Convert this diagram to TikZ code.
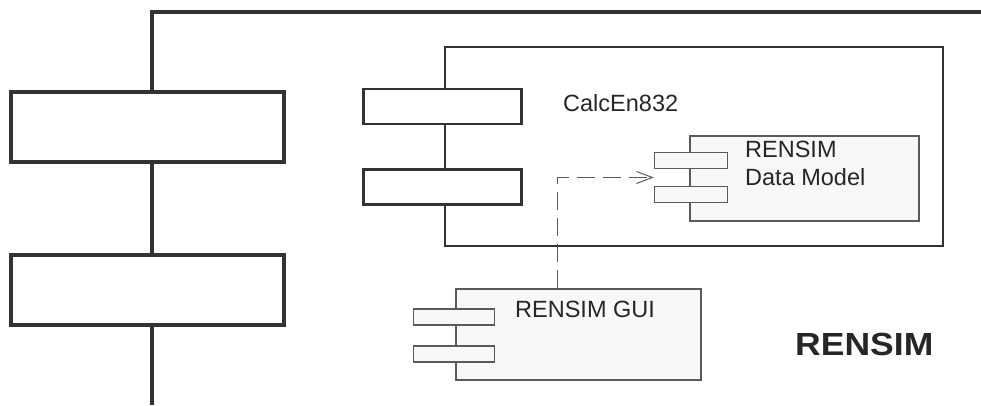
\documentclass[tikz,border=0pt]{standalone}
\usepackage{fontspec}
\setmainfont{Liberation Sans}
\usetikzlibrary{arrows.meta, positioning, calc}
\definecolor{rahmen}{HTML}{333333}
\definecolor{kante}{HTML}{5A5A5A}
\definecolor{teilfill}{HTML}{F8F8F8}
\tikzset{
  bigtab/.style   = {rectangle, draw=rahmen, line width=4pt, fill=white, minimum width=273pt, minimum height=70pt, inner sep=0pt},
  midtab/.style   = {rectangle, draw=rahmen, line width=2.5pt, fill=white, minimum width=158pt, minimum height=35pt, inner sep=0pt},
  comp/.style     = {rectangle, draw=kante, line width=1.3pt, fill=teilfill, inner sep=0pt},
  smalltab/.style = {comp, minimum height=16pt},
  txt/.style      = {font=\fontsize{23.5}{28}\selectfont, text=black!85, inner sep=0pt, anchor=base west},
  dep/.style      = {draw=kante, line width=1pt, dash pattern=on 18pt off 8pt, -{Straight Barb[length=16pt,width=12pt]}}
}

\begin{document}
\begin{tikzpicture}[x=1pt, y=-1pt]
  \useasboundingbox (0,0) rectangle (981,405);

  % RENSIM (outer component)
  \draw[rahmen, line width=4pt] (152,405) -- (152,12) -- (985,12);
  \node[bigtab] (rtabA) at (147.5,127)   {};
  \node[bigtab] (rtabB) at (147.5,289.5) {};
  \node[font=\bfseries\fontsize{32}{36}\selectfont, text=black!85, inner sep=0pt, anchor=base west] (rensim) at (795,355.5) {\scalebox{1.11}[1]{RENSIM}};

  % CalcEn832
  \node[rectangle, draw=rahmen, line width=2.5pt, minimum width=498pt, minimum height=199pt, inner sep=0pt] (calc) at (694,146.5) {};
  \node[midtab] (ctabA) at (442.5,106.5) {};
  \node[midtab] (ctabB) at (442.5,187)   {};
  \node[txt] (calcname) at (563,111) {CalcEn832};

  % RENSIM Data Model
  \node[comp, minimum width=229pt, minimum height=85pt] (dm) at (804.5,178.5) {};
  \node[smalltab, minimum width=73pt] (dmtabA) at (691,160.5) {};
  \node[smalltab, minimum width=73pt] (dmtabB) at (691,194.5) {};
  \node[txt] (dmname) at (745,157) {RENSIM};
  \node[txt, below=28pt of dmname.base west, anchor=base west] (dmname2) {Data Model};

  % RENSIM GUI
  \node[comp, minimum width=245pt, minimum height=91pt] (gui) at (578.5,334.5) {};
  \node[smalltab, minimum width=81pt] (guitabA) at (454,317) {};
  \node[smalltab, minimum width=81pt] (guitabB) at (454,354) {};
  \node[txt] (guiname) at (515,317) {RENSIM GUI};

  % dependency
  \coordinate (guiport) at ([xshift=102pt]gui.north west);
  \coordinate (dmport) at ($(dmtabA.south west)!.5!(dmtabB.north west)$);
  \draw[dep] (guiport) |- (dmport);

\end{tikzpicture}
\end{document}
